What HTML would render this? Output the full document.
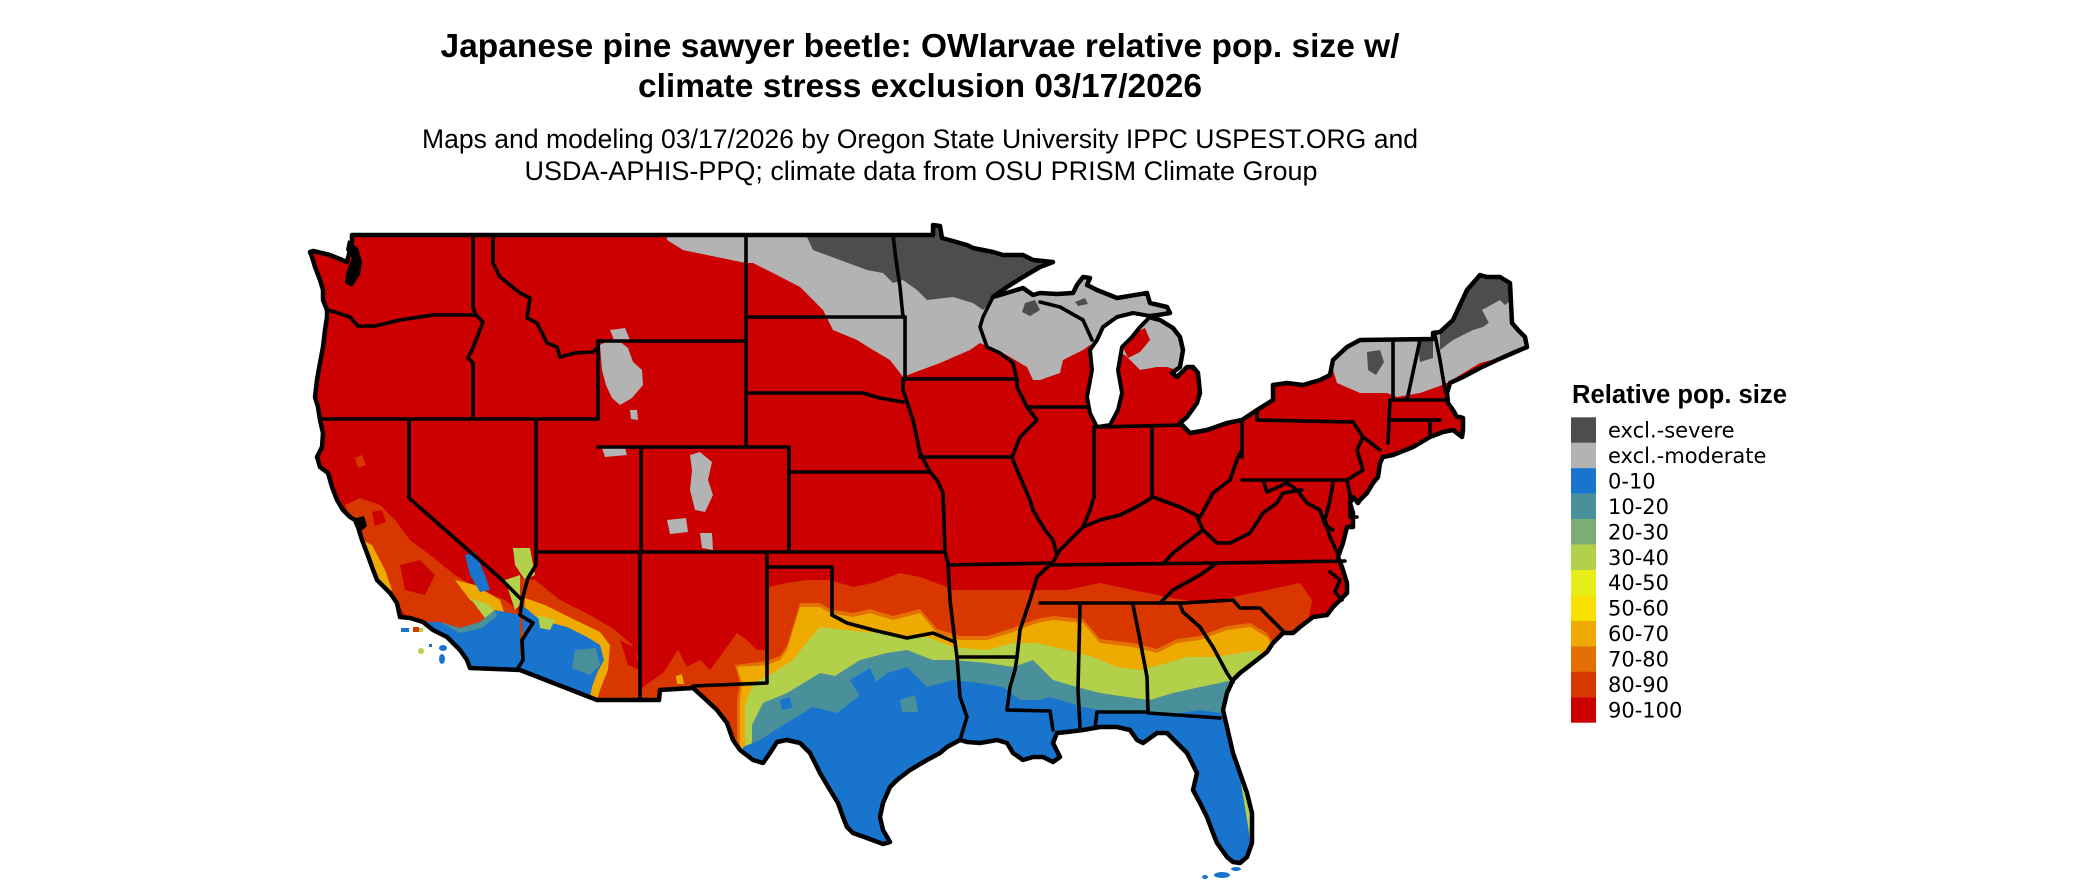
<!DOCTYPE html>
<html><head><meta charset="utf-8"><style>
html,body{margin:0;padding:0;background:#fff;}
svg{display:block;}
</style></head><body>
<svg width="2100" height="892" viewBox="0 0 2100 892" xmlns="http://www.w3.org/2000/svg">
<defs>
<clipPath id="us"><polygon points="352,235 933,235 933,225 940,226 942,238 967,245 973,248 993,252 1003,255 1023,255 1033,260 1053,262 1040,267 1023,277 1007,287 993,297 1000,295 1023,288 1033,295 1040,293 1057,294 1073,293 1077,285 1083,277 1090,278 1087,285 1097,290 1117,298 1147,293 1150,303 1167,307 1170,313 1158,315 1150,316 1152,318 1160,320 1173,328 1180,337 1183,350 1180,367 1172,373 1177,377 1187,367 1193,367 1198,373 1200,393 1197,403 1187,417 1180,423 1190,433 1207,430 1227,423 1242,420 1257,410 1273,400 1273,385 1287,383 1303,385 1320,380 1330,375 1333,360 1347,347 1360,340 1433,339 1433,333 1440,332 1453,320 1467,290 1480,275 1487,277 1500,277 1510,283 1512,323 1518,330 1525,337 1527,347 1513,353 1497,360 1480,368 1463,377 1450,383 1447,393 1448,403 1453,410 1457,417 1460,417 1463,418 1463,430 1462,437 1453,430 1443,432 1430,437 1420,443 1413,447 1393,455 1383,457 1380,463 1378,477 1373,483 1367,493 1360,500 1358,503 1353,497 1350,503 1353,513 1353,527 1347,527 1343,543 1338,557 1342,567 1347,583 1347,593 1333,607 1327,615 1313,617 1300,627 1293,633 1283,633 1273,643 1267,652 1253,663 1240,673 1233,680 1227,693 1223,710 1227,727 1233,753 1240,773 1247,793 1252,813 1252,843 1247,857 1240,863 1233,862 1227,857 1217,843 1213,833 1207,817 1200,803 1193,790 1197,773 1192,763 1187,753 1177,743 1167,733 1157,733 1143,743 1137,740 1130,730 1117,727 1100,727 1083,730 1067,732 1057,733 1053,743 1060,757 1053,762 1043,757 1033,757 1023,760 1013,753 1007,743 997,740 980,743 967,742 960,740 947,747 940,753 927,760 910,770 897,780 890,787 883,803 880,817 883,830 890,842 883,844 867,838 853,833 847,827 843,817 838,803 830,790 820,773 810,753 800,743 787,740 777,742 770,753 763,763 753,760 740,750 733,740 727,723 717,710 703,697 693,688 660,690 659,700 597,700 520,670 470,668 467,660 460,650 447,637 433,630 423,622 410,618 400,617 397,603 390,593 377,580 372,567 367,553 362,540 358,527 355,520 350,517 343,510 337,500 332,487 328,473 320,467 317,457 322,447 323,433 320,420 318,407 315,397 317,380 320,363 323,347 325,330 327,317 327,310 323,300 323,290 320,280 315,267 312,257 310,252 313,251 330,255 347,262 350,250 352,240"/></clipPath>
</defs>

<!-- Titles -->
<g font-family="'Liberation Sans', Arial, sans-serif" fill="#000" text-anchor="middle">
<text x="920" y="57" font-size="33" font-weight="bold" textLength="959" lengthAdjust="spacingAndGlyphs">Japanese pine sawyer beetle: OWlarvae relative pop. size w/</text>
<text x="920" y="97" font-size="33" font-weight="bold" textLength="564" lengthAdjust="spacingAndGlyphs">climate stress exclusion 03/17/2026</text>
<text x="920" y="148" font-size="27" textLength="996" lengthAdjust="spacingAndGlyphs">Maps and modeling 03/17/2026 by Oregon State University IPPC USPEST.ORG and</text>
<text x="921" y="180" font-size="27" textLength="793" lengthAdjust="spacingAndGlyphs">USDA-APHIS-PPQ; climate data from OSU PRISM Climate Group</text>
</g>

<!-- Map fills -->
<g clip-path="url(#us)">
<rect x="290" y="200" width="1260" height="700" fill="#CC0000"/>
<!-- northern moderate gray -->
<polygon fill="#B3B3B3" points="667,200 667,240 683,250 717,257 746,263 753,263 773,273 800,287 823,310 833,330 857,340 873,350 890,360 903,377 913,373 940,363 970,350 980,343 1003,353 1027,367 1033,380 1040,380 1060,373 1063,360 1083,350 1090,345 1125,355 1130,360 1140,370 1157,367 1167,367 1177,370 1190,360 1200,340 1200,200"/>
<polygon fill="#CC0000" points="1122,345 1130,335 1145,328 1150,340 1140,352 1128,358"/>
<!-- northern severe -->
<polygon fill="#4D4D4D" points="800,220 807,237 813,250 840,260 867,270 883,273 893,283 903,280 917,290 927,300 953,297 973,303 983,310 993,300 1000,290 1060,260 1060,220"/>
<polygon fill="#4D4D4D" points="1025,303 1035,300 1040,310 1030,316 1022,312"/>
<polygon fill="#4D4D4D" points="1075,302 1085,298 1088,304 1078,306"/>
<!-- NE gray -->
<polygon fill="#B3B3B3" points="1330,330 1330,360 1337,383 1360,393 1387,393 1397,397 1420,393 1437,387 1447,383 1480,363 1503,357 1530,345 1530,260 1330,260"/>
<polygon fill="#4D4D4D" points="1440,350 1453,340 1473,330 1483,327 1497,317 1507,303 1515,300 1515,260 1440,260"/>
<polygon fill="#B3B3B3" points="1482,310 1500,300 1508,308 1505,322 1490,325"/>
<polygon fill="#4D4D4D" points="1417,340 1433,340 1433,358 1420,362"/>
<polygon fill="#4D4D4D" points="1367,352 1380,350 1384,362 1376,375 1368,370"/>
<!-- western gray patches -->
<polygon fill="#B3B3B3" points="600,345 615,338 628,348 633,362 642,370 643,385 632,398 620,405 612,398 606,385 602,370"/>
<polygon fill="#B3B3B3" points="630,410 637,410 638,420 631,419"/>
<polygon fill="#B3B3B3" points="602,448 625,448 627,455 605,457"/>
<polygon fill="#B3B3B3" points="690,455 700,452 712,462 708,480 713,495 705,512 695,510 690,490 692,470"/>
<polygon fill="#B3B3B3" points="667,520 686,518 688,532 670,534"/>
<polygon fill="#B3B3B3" points="700,533 712,533 713,550 702,548"/>
<polygon fill="#B3B3B3" points="610,330 625,328 630,340 615,342"/>
<polygon fill="#B3B3B3" points="665,235 746,235 746,263 717,257 683,250"/>

<!-- southern bands -->
<polygon fill="#D83800" points="641,692 643,687 663,673 678,650 687,667 700,660 710,670 727,647 737,633 747,640 757,650 767,650 768,587 787,583 807,580 830,580 853,587 873,583 900,573 920,577 947,587 953,590 987,590 1013,590 1037,590 1067,590 1100,583 1133,590 1167,597 1200,603 1233,597 1267,590 1300,583 1312,600 1305,640 1300,900 641,900"/>
<polygon fill="#E37000" points="737,700 740,683 735,665 767,661 780,656 787,646 793,626 800,603 820,603 830,609 853,613 870,609 893,616 920,609 937,629 960,636 987,636 1010,629 1037,619 1053,616 1083,619 1100,639 1133,643 1157,649 1177,639 1200,636 1227,626 1250,623 1267,633 1275,646 1275,900 737,900"/>
<polygon fill="#EEAA00" points="740,700 742,683 737,667 767,665 780,660 787,650 793,630 800,607 820,607 830,613 853,617 870,613 893,620 920,613 937,633 960,640 987,640 1010,633 1037,623 1053,620 1083,623 1100,643 1133,647 1157,653 1177,643 1200,640 1227,630 1250,627 1267,637 1275,650 1275,900 740,900"/>
<polygon fill="#B2D04A" points="745,705 753,683 773,673 793,660 803,647 820,627 847,630 877,633 907,637 927,637 953,647 987,650 1013,643 1037,643 1067,650 1093,657 1117,667 1140,670 1167,663 1187,657 1213,657 1240,653 1260,650 1262,900 745,900"/>
<polygon fill="#4A909A" points="752,725 763,703 787,693 820,673 835,676 860,660 887,653 907,650 933,660 953,660 987,663 1013,667 1033,660 1053,680 1077,687 1100,693 1127,697 1150,700 1173,693 1200,687 1220,683 1232,680 1240,900 752,900"/>
<polygon fill="#1874CD" points="743,900 743,747 760,740 780,727 813,707 837,713 863,693 887,673 907,667 927,687 953,680 980,683 1003,687 1020,700 1040,700 1050,697 1083,707 1117,713 1150,713 1180,713 1200,710 1220,713 1230,716 1260,900"/>
<!-- speckles in TX -->
<polygon fill="#1874CD" points="850,680 870,668 880,690 862,700"/>
<polygon fill="#4A909A" points="900,700 915,695 918,712 902,712"/>
<polygon fill="#1874CD" points="780,700 790,697 792,708 782,710"/>
<polygon fill="#EEAA00" points="676,676 682,674 684,684 677,684"/>

<!-- California -->
<polygon fill="#D83800" points="345,505 360,498 380,505 395,520 410,540 430,555 455,575 480,590 505,600 520,612 515,640 490,645 460,640 430,625 405,615 395,600 380,580 365,555 355,530"/>
<polygon fill="#D83800" points="355,458 362,455 366,465 358,468"/>
<polygon fill="#CC0000" points="400,565 420,560 435,575 425,595 405,590"/>
<polygon fill="#CC0000" points="440,545 455,548 458,565 445,568"/>
<polygon fill="#CC0000" points="372,512 382,510 386,522 375,526"/>
<polygon fill="#EEAA00" points="362,540 372,545 385,570 392,590 383,595 372,575"/>
<polygon fill="#EEAA00" points="455,580 475,585 500,600 505,615 490,612 470,600"/>
<polygon fill="#B2D04A" points="470,598 490,605 500,620 485,618"/>
<polygon fill="#B2D04A" points="505,580 520,575 525,600 515,610"/>
<polygon fill="#1874CD" points="465,555 475,552 485,575 490,590 480,592 470,575"/>
<polygon fill="#1874CD" points="423,622 440,622 460,628 480,622 495,610 505,612 520,615 523,640 523,660 518,668 470,668 460,650 447,637 433,630"/>
<polygon fill="#4A909A" points="440,622 460,628 480,622 495,610 497,616 482,628 460,633"/>
<!-- NV south / AZ -->
<polygon fill="#B2D04A" points="513,548 530,548 535,575 525,580 515,565"/>
<polygon fill="#D83800" points="520,578 535,580 560,600 590,615 615,630 632,645 640,660 640,700 590,700 520,670"/>
<polygon fill="#CC0000" points="620,640 635,648 640,670 628,665"/>
<polygon fill="#EEAA00" points="525,598 545,605 575,620 600,632 610,645 608,670 600,690 597,700 590,700 520,670"/>
<polygon fill="#1874CD" points="522,605 540,620 567,627 587,637 600,645 604,660 597,673 592,687 590,697 594,700 520,670 518,667 523,640"/>
<polygon fill="#4A909A" points="575,650 596,648 600,665 590,675 572,668"/>
<polygon fill="#B2D04A" points="538,615 555,620 550,630 540,628"/>
</g>

<!-- islands / keys -->
<g fill="#1874CD">
<rect x="401" y="628" width="8" height="4"/>
<rect x="413" y="627" width="6" height="5" fill="#D83800"/>
<rect x="419" y="628" width="4" height="4" fill="#B2D04A"/>
<circle cx="421" cy="651" r="3" fill="#B2D04A"/>
<rect x="429" y="644" width="3" height="3"/>
<ellipse cx="443" cy="648" rx="4" ry="3"/>
<ellipse cx="442" cy="659" rx="3" ry="5"/>
<ellipse cx="1205" cy="877" rx="3" ry="2"/>
<ellipse cx="1222" cy="875" rx="8" ry="3"/>
<ellipse cx="1236" cy="869" rx="5" ry="2"/>
</g>

<!-- Lake Michigan -->
<polygon fill="#fff" stroke="#000" stroke-width="4" stroke-linejoin="round" points="1150,316 1133,313 1117,317 1103,327 1097,340 1090,350 1092,370 1087,397 1090,413 1097,427 1110,425 1118,410 1122,393 1118,370 1122,347 1132,337 1140,327 1147,320"/>

<!-- Outline -->
<polygon points="352,235 933,235 933,225 940,226 942,238 967,245 973,248 993,252 1003,255 1023,255 1033,260 1053,262 1040,267 1023,277 1007,287 993,297 1000,295 1023,288 1033,295 1040,293 1057,294 1073,293 1077,285 1083,277 1090,278 1087,285 1097,290 1117,298 1147,293 1150,303 1167,307 1170,313 1158,315 1150,316 1152,318 1160,320 1173,328 1180,337 1183,350 1180,367 1172,373 1177,377 1187,367 1193,367 1198,373 1200,393 1197,403 1187,417 1180,423 1190,433 1207,430 1227,423 1242,420 1257,410 1273,400 1273,385 1287,383 1303,385 1320,380 1330,375 1333,360 1347,347 1360,340 1433,339 1433,333 1440,332 1453,320 1467,290 1480,275 1487,277 1500,277 1510,283 1512,323 1518,330 1525,337 1527,347 1513,353 1497,360 1480,368 1463,377 1450,383 1447,393 1448,403 1453,410 1457,417 1460,417 1463,418 1463,430 1462,437 1453,430 1443,432 1430,437 1420,443 1413,447 1393,455 1383,457 1380,463 1378,477 1373,483 1367,493 1360,500 1358,503 1353,497 1350,503 1353,513 1353,527 1347,527 1343,543 1338,557 1342,567 1347,583 1347,593 1333,607 1327,615 1313,617 1300,627 1293,633 1283,633 1273,643 1267,652 1253,663 1240,673 1233,680 1227,693 1223,710 1227,727 1233,753 1240,773 1247,793 1252,813 1252,843 1247,857 1240,863 1233,862 1227,857 1217,843 1213,833 1207,817 1200,803 1193,790 1197,773 1192,763 1187,753 1177,743 1167,733 1157,733 1143,743 1137,740 1130,730 1117,727 1100,727 1083,730 1067,732 1057,733 1053,743 1060,757 1053,762 1043,757 1033,757 1023,760 1013,753 1007,743 997,740 980,743 967,742 960,740 947,747 940,753 927,760 910,770 897,780 890,787 883,803 880,817 883,830 890,842 883,844 867,838 853,833 847,827 843,817 838,803 830,790 820,773 810,753 800,743 787,740 777,742 770,753 763,763 753,760 740,750 733,740 727,723 717,710 703,697 693,688 660,690 659,700 597,700 520,670 470,668 467,660 460,650 447,637 433,630 423,622 410,618 400,617 397,603 390,593 377,580 372,567 367,553 362,540 358,527 355,520 350,517 343,510 337,500 332,487 328,473 320,467 317,457 322,447 323,433 320,420 318,407 315,397 317,380 320,363 323,347 325,330 327,317 327,310 323,300 323,290 320,280 315,267 312,257 310,252 313,251 330,255 347,262 350,250 352,240" fill="none" stroke="#000" stroke-width="4.5" stroke-linejoin="round"/>

<!-- Puget sound, bays -->
<polygon fill="#000" points="348,240 358,248 362,262 360,275 352,287 345,283 347,270 352,258 346,250"/>
<polygon fill="#000" points="356,518 364,516 367,526 360,532 355,526"/>

<!-- State borders -->
<g fill="none" stroke="#000" stroke-width="3.6" stroke-linejoin="round" stroke-linecap="round">
<polyline points="327,310 335,312 350,317 358,326 375,326 400,320 433,315 473,315 476,315"/>
<polyline points="473,235 473,308 476,315"/>
<polyline points="476,315 483,322 478,335 472,350 468,358 473,363 473,419"/>
<polyline points="493,235 493,263 500,277 520,293 530,298 527,318 537,323 547,343 557,347 560,357 575,353 593,352 598,347 598,341"/>
<polyline points="598,419 598,341 746,341"/>
<polyline points="320,419 598,419"/>
<polyline points="598,447 641,447 789,447"/>
<polyline points="746,235 746,447"/>
<polyline points="409,419 409,498 500,578 522,600 520,615 533,623 522,640 523,660 518,668"/>
<polyline points="536,419 536,565 528,578 522,600"/>
<polyline points="536,552 945,552"/>
<polyline points="641,447 641,552"/>
<polyline points="640,552 640,700"/>
<polyline points="789,447 789,552"/>
<polyline points="789,472 930,472"/>
<polyline points="767,552 767,683 693,686"/>
<polyline points="767,567 832,567 832,615"/>
<polyline points="832,615 847,623 873,630 907,638 933,633 955,642"/>
<polyline points="945,552 948,563 950,600 955,642 957,657 960,697 967,717 960,740"/>
<polyline points="957,657 1017,657"/>
<polyline points="948,565 1050,563"/>
<polyline points="1012,457 1017,470 1030,500 1033,510 1045,530 1053,540 1057,555 1053,562 1037,577 1030,600 1020,630 1017,657 1015,670 1010,687 1007,710 1050,711 1053,730"/>
<polyline points="1080,605 1078,690 1080,727"/>
<polyline points="1040,603 1183,603"/>
<polyline points="1133,605 1140,640 1147,677 1148,712"/>
<polyline points="1095,728 1097,712 1148,712"/>
<polyline points="1148,713 1220,718"/>
<polyline points="1180,605 1183,612 1200,627 1213,647 1227,673 1233,682"/>
<polyline points="1183,603 1233,600 1240,608 1260,608 1285,633"/>
<polyline points="1217,563 1200,575 1173,590 1160,603"/>
<polyline points="1050,565 1217,563 1345,561"/>
<polyline points="930,472 937,480 943,493 945,552"/>
<polyline points="903,379 1017,379"/>
<polyline points="920,457 1012,457"/>
<polyline points="903,379 903,390 907,402 913,420 920,453 930,472"/>
<polyline points="1017,379 1017,387 1027,407 1037,420 1020,437 1015,450 1012,457"/>
<polyline points="746,393 863,393 880,398 903,402"/>
<polyline points="746,317 905,317"/>
<polyline points="893,235 896,260 900,287 903,317 905,317 905,379"/>
<polyline points="993,297 983,317 980,327 987,347 1000,353 1013,363 1017,380"/>
<polyline points="1040,302 1060,307 1083,320 1092,340"/>
<polyline points="1027,407 1088,407"/>
<polyline points="1094,427 1094,497 1090,510 1083,527"/>
<polyline points="1057,555 1060,550 1070,540 1083,527 1100,520 1120,515 1140,505 1153,497 1180,507 1200,517 1213,493 1230,480 1238,457 1242,450"/>
<polyline points="1152,427 1152,497"/>
<polyline points="1097,427 1183,425"/>
<polyline points="1242,420 1242,457"/>
<polyline points="1242,480 1347,480"/>
<polyline points="1257,410 1257,420 1353,422"/>
<polyline points="1353,422 1363,437 1380,450"/>
<polyline points="1363,437 1357,450 1363,470 1347,480"/>
<polyline points="1263,480 1267,492 1287,483 1297,490 1307,503 1320,510 1325,525 1333,530"/>
<polyline points="1302,490 1283,493 1277,503 1263,513 1250,533 1230,543 1217,543 1203,530 1197,517"/>
<polyline points="1203,530 1190,540 1173,553 1165,562"/>
<polyline points="1347,480 1350,495 1350,517 1357,517"/>
<polyline points="1333,483 1330,500 1325,520 1330,537 1337,552"/>
<polyline points="1393,340 1393,400 1390,400 1388,443"/>
<polyline points="1420,340 1407,400"/>
<polyline points="1435,335 1440,360 1445,390 1447,395"/>
<polyline points="1390,400 1447,400"/>
<polyline points="1390,420 1440,420"/>
<polyline points="1430,420 1430,437"/>
<polyline points="1330,572 1340,580 1335,592 1342,600"/>
</g>

<!-- Legend -->
<text x="1572" y="403" font-family="'Liberation Sans', Arial, sans-serif" font-weight="bold" font-size="25.5" textLength="215" lengthAdjust="spacingAndGlyphs">Relative pop. size</text>
<g>
<rect x="1571" y="417.3" width="25" height="25.6" fill="#4D4D4D"/>
<rect x="1571" y="442.8" width="25" height="25.6" fill="#B3B3B3"/>
<rect x="1571" y="468.2" width="25" height="25.6" fill="#1874CD"/>
<rect x="1571" y="493.7" width="25" height="25.6" fill="#4A909A"/>
<rect x="1571" y="519.1" width="25" height="25.6" fill="#7BAE72"/>
<rect x="1571" y="544.6" width="25" height="25.6" fill="#B2D04A"/>
<rect x="1571" y="570.0" width="25" height="25.6" fill="#E5EE18"/>
<rect x="1571" y="595.5" width="25" height="25.6" fill="#F8E000"/>
<rect x="1571" y="620.9" width="25" height="25.6" fill="#EEAA00"/>
<rect x="1571" y="646.4" width="25" height="25.6" fill="#E37000"/>
<rect x="1571" y="671.8" width="25" height="25.6" fill="#D83800"/>
<rect x="1571" y="697.3" width="25" height="25.4" fill="#CC0000"/>
</g>
<g font-family="'DejaVu Sans', sans-serif" font-size="21" fill="#000">
<text x="1608" y="437.5">excl.-severe</text>
<text x="1608" y="463.0">excl.-moderate</text>
<text x="1608" y="488.4">0-10</text>
<text x="1608" y="513.9">10-20</text>
<text x="1608" y="539.3">20-30</text>
<text x="1608" y="564.8">30-40</text>
<text x="1608" y="590.2">40-50</text>
<text x="1608" y="615.7">50-60</text>
<text x="1608" y="641.1">60-70</text>
<text x="1608" y="666.6">70-80</text>
<text x="1608" y="692.0">80-90</text>
<text x="1608" y="717.5">90-100</text>
</g>
</svg>
</body></html>
